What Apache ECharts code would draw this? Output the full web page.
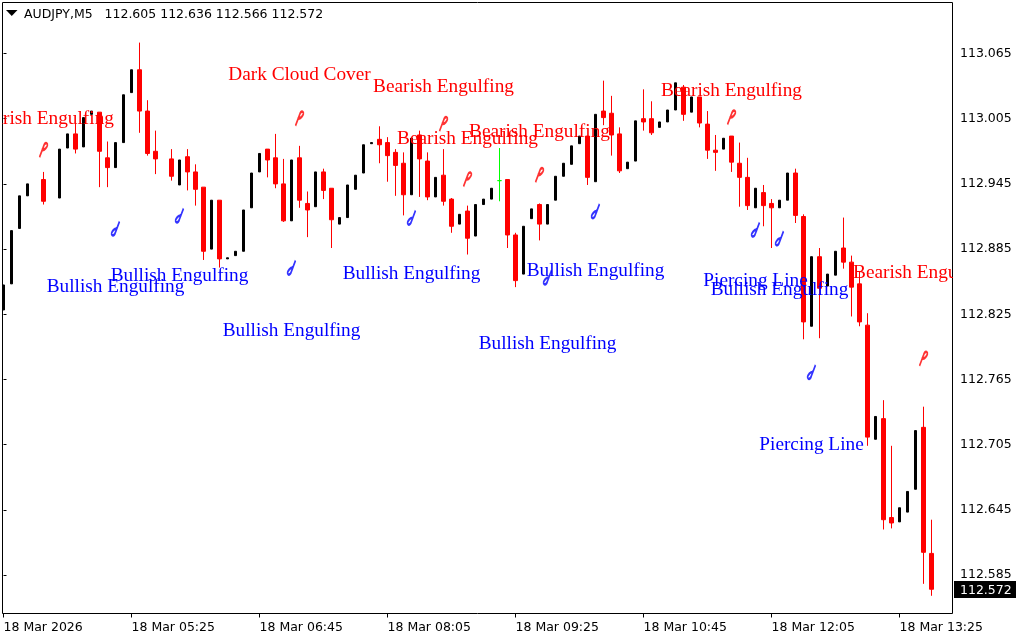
<!DOCTYPE html>
<html><head><meta charset="utf-8">
<style>html,body{margin:0;padding:0;background:#fff}#c{width:1024px;height:640px}</style>
<script src="https://cdn.jsdelivr.net/npm/echarts@6/dist/echarts.min.js"></script>
</head><body><div id="c"></div>
<script>
const symbolName = 'AUDJPY,M5';
const headerOHLC = ['112.605', '112.636', '112.566', '112.572'];
const lastPrice = 112.572;
const priceTicks = [112.585,112.645,112.705,112.765,112.825,112.885,112.945,113.005,113.065];
const timeTickIdx = [0,16,32,48,64,80,96,112];
const timeTickLabels = ['18 Mar 2026','18 Mar 05:25','18 Mar 06:45','18 Mar 08:05','18 Mar 09:25','18 Mar 10:45','18 Mar 12:05','18 Mar 13:25'];

const opens = [112.829,112.853,112.904,112.934,null,112.949,null,112.932,112.978,112.991,112.979,113.009,113.011,112.969,112.960,112.983,113.029,113.050,113.012,112.975,null,112.968,112.944,112.970,112.956,112.942,112.885,112.930,112.876,112.879,112.883,112.923,112.956,112.977,112.969,112.945,112.911,112.969,112.927,112.924,112.956,112.941,112.908,112.914,112.940,112.955,112.982,112.986,112.983,112.974,112.964,112.935,112.990,112.966,112.933,112.953,112.931,112.908,112.920,112.897,112.926,112.931,112.948,112.949,112.898,112.862,112.913,112.926,112.908,112.930,112.952,112.963,112.982,112.989,112.947,113.012,113.010,112.991,112.959,112.966,113.005,113.005,112.997,113.002,113.013,113.034,113.011,113.025,113.000,112.976,112.977,112.989,112.964,112.951,112.923,112.937,112.927,112.923,112.930,112.955,112.915,112.814,112.878,112.851,112.861,112.886,112.873,112.853,112.815,112.710,112.729,112.638,112.634,112.643,112.664,112.721,112.605];
const highs = [112.852,112.902,112.934,112.945,null,112.956,null,112.977,112.991,113.001,113.006,113.012,113.011,112.984,112.983,113.027,113.050,113.075,113.022,112.994,null,112.977,112.967,112.977,112.963,112.942,112.930,112.930,112.877,112.883,112.921,112.955,112.973,112.977,112.991,112.968,112.967,112.980,112.938,112.956,112.959,112.941,112.914,112.944,112.953,112.981,112.983,112.998,112.988,112.977,112.974,112.987,112.994,112.974,112.951,112.977,112.932,112.917,112.925,112.926,112.931,112.941,112.978,112.949,112.900,112.906,112.922,112.927,112.926,112.952,112.964,112.980,112.989,112.989,113.009,113.040,113.026,112.997,112.965,113.003,113.032,113.021,113.002,113.013,113.038,113.036,113.025,113.025,113.012,112.990,112.987,112.989,112.983,112.969,112.941,112.944,112.931,112.930,112.955,112.959,112.917,112.878,112.886,112.862,112.883,112.914,112.879,112.864,112.826,112.731,112.746,112.704,112.647,112.662,112.718,112.740,112.636];
const lows = [112.829,112.853,112.904,112.934,null,112.926,null,112.932,112.978,112.973,112.979,113.009,112.942,112.942,112.960,112.983,113.029,112.992,112.971,112.954,null,112.948,112.944,112.939,112.925,112.875,112.885,112.868,112.876,112.879,112.883,112.923,112.956,112.951,112.941,112.910,112.911,112.923,112.896,112.924,112.931,112.886,112.908,112.914,112.940,112.955,112.982,112.964,112.947,112.934,112.916,112.935,112.933,112.930,112.933,112.925,112.900,112.908,112.880,112.897,112.926,112.931,112.929,112.886,112.850,112.862,112.913,112.893,112.908,112.930,112.952,112.963,112.982,112.944,112.947,112.999,112.971,112.955,112.959,112.966,112.994,112.990,112.997,113.002,113.013,113.003,113.011,112.997,112.968,112.957,112.977,112.956,112.924,112.921,112.923,112.906,112.886,112.923,112.930,112.909,112.802,112.814,112.803,112.851,112.861,112.867,112.823,112.814,112.704,112.710,112.627,112.628,112.634,112.643,112.664,112.577,112.566];
const closes = [112.852,112.902,112.934,112.945,null,112.929,null,112.977,112.991,112.977,113.006,113.012,112.975,112.960,112.983,113.027,113.050,113.012,112.973,112.968,null,112.952,112.967,112.956,112.940,112.883,112.930,112.876,112.877,112.883,112.921,112.955,112.973,112.967,112.945,112.911,112.967,112.930,112.921,112.956,112.939,112.912,112.914,112.944,112.953,112.981,112.983,112.981,112.971,112.962,112.935,112.987,112.968,112.933,112.951,112.929,112.906,112.917,112.895,112.926,112.931,112.941,112.948,112.898,112.856,112.906,112.922,112.908,112.926,112.952,112.964,112.980,112.989,112.951,113.009,113.006,112.990,112.957,112.965,113.003,113.002,112.992,113.002,113.013,113.038,113.009,113.025,113.001,112.976,112.974,112.987,112.965,112.951,112.925,112.941,112.925,112.923,112.930,112.955,112.916,112.818,112.878,112.849,112.862,112.883,112.873,112.850,112.818,112.712,112.731,112.636,112.633,112.647,112.662,112.718,112.606,112.572];

const noteText = ['Bearish Engulfing','Dark Cloud Cover','Bearish Engulfing','Bearish Engulfing','Bearish Engulfing','Bearish Engulfing','Bearish Engulfing','Bullish Engulfing','Bullish Engulfing','Bullish Engulfing','Bullish Engulfing','Bullish Engulfing','Bullish Engulfing','Piercing Line','Bullish Engulfing','Piercing Line'];
const noteBar = [5,37,55,58,67,91,115,14,22,36,51,68,74,94,97,101];
const notePrice = [113.0045,113.0455,113.0345,112.9865,112.9925,113.0305,112.8635,112.8505,112.8605,112.8095,112.8625,112.7975,112.8645,112.8555,112.8475,112.7045];
const noteColor = ['#ff0000','#ff0000','#ff0000','#ff0000','#ff0000','#ff0000','#ff0000','#0000ff','#0000ff','#0000ff','#0000ff','#0000ff','#0000ff','#0000ff','#0000ff','#0000ff'];

const sellBar = [5,37,55,58,67,91,115];
const sellPrice = [112.976,113.005,113.000,112.949,112.953,113.006,112.784];
const buyBar = [14,22,36,51,68,74,94,97,101];
const buyPrice = [112.904,112.916,112.868,112.914,112.859,112.920,112.903,112.895,112.772];

const red = [], black = [], green = [];
opens.forEach((o, i) => {
  if (o === null) return;
  const row = [i, o, closes[i], lows[i], highs[i]];
  if (o > closes[i]) red.push(row);
  else if (o < closes[i]) black.push(row);
  else green.push(row);
});
const candle = (data, color, w) => ({
  type: 'candlestick', data, barWidth: w, clip: true, silent: true,
  itemStyle: { color, color0: color, borderColor: color, borderColor0: color, borderColorDoji: color, borderWidth: 1 }
});
const hook = 'path://M2 20 L6 5 Q7 0 9 1 Q11 3 8 8 Q6 11 4 10';
const glyphs = (bars, prices, color, rot) => ({
  type: 'scatter', data: bars.map((b, k) => [b, prices[k]]), symbol: hook,
  symbolSize: [8, 14], symbolRotate: rot, silent: true,
  itemStyle: { color: 'transparent', borderColor: color, borderWidth: 2 }, z: 5
});
const chart = echarts.init(document.getElementById('c'), null, { renderer: 'canvas' });
const axisFont = '"DejaVu Sans"';
const axisSize = 12.5;
chart.setOption({
  animation: false,
  backgroundColor: '#ffffff',
  title: {
    text: symbolName + '   ' + headerOHLC.join(' '), left: 24, top: 8, padding: 0,
    textStyle: { fontFamily: axisFont, fontSize: axisSize, fontWeight: 'normal', color: '#000' }
  },
  graphic: [{ type: 'polygon', shape: { points: [[6, 10], [17.5, 10], [11.75, 16]] }, style: { fill: '#000' } }],
  grid: { left: 2.5, top: 2.5, width: 950, height: 611, show: true, borderColor: '#000', borderWidth: 1, backgroundColor: '#fff' },
  xAxis: {
    type: 'value', min: -0.125, max: 118.625, splitLine: { show: false }, axisLine: { show: false },
    axisTick: { show: true, length: 4, customValues: timeTickIdx, lineStyle: { color: '#000' } },
    axisLabel: {
      customValues: timeTickIdx, align: 'left', margin: 8, color: '#000', fontFamily: axisFont, fontSize: axisSize,
      formatter: v => timeTickLabels[timeTickIdx.indexOf(v)]
    }
  },
  yAxis: {
    type: 'value', position: 'right', min: 112.5497, max: 113.1119, scale: true, splitLine: { show: false }, axisLine: { show: false },
    axisTick: { show: true, length: 3, customValues: priceTicks, lineStyle: { color: '#000' } },
    axisLabel: {
      customValues: priceTicks, margin: 7.5, padding: [2, 0, 0, 0], color: '#000', fontFamily: axisFont, fontSize: axisSize,
      formatter: v => v.toFixed(3)
    }
  },
  series: [
    candle(red, '#ff0000', 4),
    candle(black, '#000000', 2),
    candle(green, '#00ff00', 4),
    glyphs(sellBar, sellPrice, '#ff0000', 0),
    glyphs(buyBar, buyPrice, '#0000ff', 180),
    {
      type: 'custom', coordinateSystem: 'cartesian2d', clip: true, silent: true, z: 6,
      data: noteBar.map((b, k) => [b, notePrice[k]]),
      encode: { x: 0, y: 1 },
      renderItem: (params, api) => {
        const p = api.coord([api.value(0), api.value(1)]);
        return { type: 'text', x: p[0], y: p[1], style: {
          text: noteText[params.dataIndex], fill: noteColor[params.dataIndex],
          font: '19.3px "Liberation Serif"', align: 'center', verticalAlign: 'middle' } };
      }
    },
    {
      type: 'custom', coordinateSystem: 'cartesian2d', clip: false, silent: true, z: 7,
      data: [[118.625, lastPrice]],
      encode: { x: 0, y: 1 },
      renderItem: (params, api) => {
        const p = api.coord([api.value(0), api.value(1)]);
        return { type: 'group', children: [
          { type: 'rect', shape: { x: Math.floor(p[0]) + 2, y: Math.round(p[1]) - 8, width: 62, height: 17 }, style: { fill: '#000' } },
          { type: 'text', x: Math.floor(p[0]) + 8, y: p[1] + 1, style: { text: lastPrice.toFixed(3), fill: '#fff', font: axisSize + 'px ' + axisFont, align: 'left', verticalAlign: 'middle' } }
        ] };
      }
    }
  ]
});
</script></body></html>
